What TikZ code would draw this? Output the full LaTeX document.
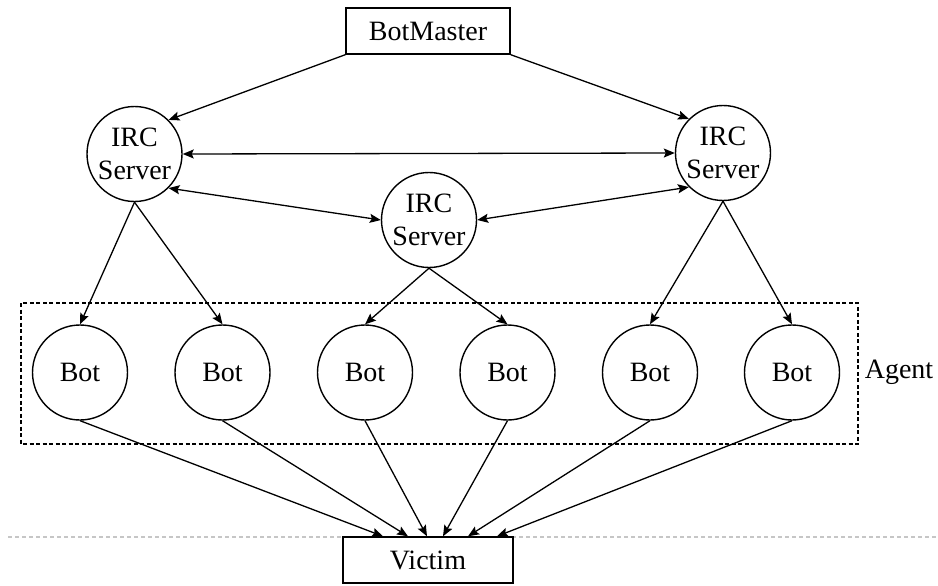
\documentclass[tikz,border=0pt]{standalone}
\usepackage{fontspec}
\setmainfont{Liberation Serif}
\usetikzlibrary{arrows.meta}

\begin{document}
\begin{tikzpicture}[x=1pt,y=-1pt,
  every node/.style={font=\fontsize{28}{33}\selectfont},
  server/.style={circle,draw,line width=1.4pt,minimum size=95pt,inner sep=0pt,align=center,fill=white},
  botnode/.style={circle,draw,line width=1.4pt,minimum size=95pt,inner sep=0pt,fill=white},
  boxnode/.style={rectangle,draw,line width=1.4pt,minimum height=46pt,inner sep=0pt,fill=white},
  link/.style={line width=1.3pt,-{Stealth[length=11pt,width=9pt,inset=2pt]}},
  twoway/.style={line width=1.3pt,{Stealth[length=11pt,width=9pt,inset=2pt]}-{Stealth[length=11pt,width=9pt,inset=2pt]}},
  groupframe/.style={line width=1.2pt,dash pattern=on 4pt off 2.5pt},
  baseline rule/.style={line width=1.3pt,draw=gray!45,dash pattern=on 4pt off 3pt},
]
\useasboundingbox (0,0) rectangle (938,586);

% light separator above the target
\draw[baseline rule] (8,537) -- (938,537);

% command chain
\node[boxnode,minimum width=164pt] (master) at (428,31) {BotMaster};
\node[server] (ircL) at (134.5,154) {IRC\\Server};
\node[server] (ircR) at (723,153) {IRC\\Server};
\node[server] (ircM) at (429,220) {IRC\\Server};

% agent group
\draw[groupframe] (21,303) rectangle (858,444);
\node (agent) at (899,372) {Agent};
\foreach \i/\x in {1/80,2/222.5,3/365,4/507.5,5/650,6/792}
  \node[botnode] (bot\i) at (\x,372.5) {Bot};

% target
\node[boxnode,minimum width=170pt] (victim) at (428,560) {Victim};

% master to servers
\draw[link] (master.south west) -- (ircL.45);
\draw[link] (master.south east) -- (ircR.135);

% server mesh
\draw[twoway] (ircL.east) -- (ircR.west);
\draw[twoway] (ircL.-45) -- (ircM.west);
\draw[twoway] (ircR.-135) -- (ircM.east);

% servers to bots
\draw[link] (ircL.south) -- (bot1.north);
\draw[link] (ircL.south) -- (bot2.north);
\draw[link] (ircM.south) -- (bot3.north);
\draw[link] (ircM.south) -- (bot4.north);
\draw[link] (ircR.south) -- (bot5.north);
\draw[link] (ircR.south) -- (bot6.north);

% bots to victim
\foreach \i/\d in {1/-45,2/-20,3/-1,4/15,5/40,6/69}
  \draw[link] (bot\i.south) -- ([xshift=\d pt]victim.north);
\end{tikzpicture}
\end{document}
